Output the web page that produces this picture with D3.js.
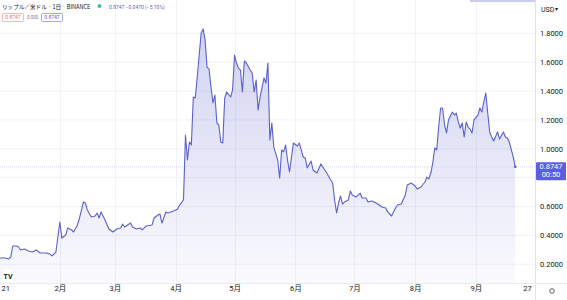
<!DOCTYPE html>
<html>
<head>
<meta charset="utf-8">
<script src="https://cdn.jsdelivr.net/npm/d3@7"></script>
<style>
body{margin:0;background:#fff;}
text{font-family:Roboto,"Noto Sans CJK JP",sans-serif;}
</style>
</head>
<body>
<svg id="chart" width="567" height="300"></svg>
<script>
// XRP/USD daily closes
const dates = ["2021-01-01","2021-01-04","2021-01-06","2021-01-07","2021-01-08","2021-01-10","2021-01-11","2021-01-12","2021-01-14","2021-01-16","2021-01-18","2021-01-20","2021-01-22","2021-01-25","2021-01-27","2021-01-28","2021-01-30","2021-01-31",
"2021-02-01","2021-02-02","2021-02-04","2021-02-05","2021-02-07","2021-02-08","2021-02-10","2021-02-11","2021-02-13","2021-02-14","2021-02-15","2021-02-17","2021-02-19","2021-02-20","2021-02-21","2021-02-22","2021-02-24","2021-02-26","2021-02-28",
"2021-03-02","2021-03-04","2021-03-05","2021-03-06","2021-03-09","2021-03-10","2021-03-12","2021-03-14","2021-03-15","2021-03-17","2021-03-20","2021-03-21","2021-03-23","2021-03-24","2021-03-25","2021-03-27","2021-03-28","2021-03-31",
"2021-04-02","2021-04-03","2021-04-05","2021-04-06","2021-04-07","2021-04-08","2021-04-09","2021-04-10","2021-04-11","2021-04-12","2021-04-14","2021-04-15","2021-04-16","2021-04-17","2021-04-18","2021-04-19","2021-04-20","2021-04-21","2021-04-22","2021-04-23","2021-04-24","2021-04-25","2021-04-26","2021-04-27","2021-04-29","2021-04-30",
"2021-05-01","2021-05-02","2021-05-03","2021-05-04","2021-05-05","2021-05-06","2021-05-07","2021-05-09","2021-05-10","2021-05-11","2021-05-12","2021-05-13","2021-05-14","2021-05-16","2021-05-17","2021-05-18","2021-05-19","2021-05-20","2021-05-21","2021-05-23","2021-05-24","2021-05-25","2021-05-26","2021-05-27","2021-05-28","2021-05-29","2021-05-31",
"2021-06-02","2021-06-03","2021-06-05","2021-06-06","2021-06-07","2021-06-09","2021-06-10","2021-06-12","2021-06-14","2021-06-15","2021-06-17","2021-06-19","2021-06-20","2021-06-21","2021-06-22","2021-06-23","2021-06-24","2021-06-25","2021-06-26","2021-06-28","2021-06-29","2021-06-30",
"2021-07-02","2021-07-04","2021-07-05","2021-07-07","2021-07-08","2021-07-10","2021-07-12","2021-07-13","2021-07-15","2021-07-17","2021-07-18","2021-07-20","2021-07-22","2021-07-23","2021-07-25","2021-07-27","2021-07-28","2021-07-30",
"2021-08-01","2021-08-02","2021-08-04","2021-08-06","2021-08-07","2021-08-08","2021-08-09","2021-08-10","2021-08-11","2021-08-12","2021-08-13","2021-08-14","2021-08-15","2021-08-16","2021-08-17","2021-08-18","2021-08-20","2021-08-21","2021-08-22","2021-08-23","2021-08-24","2021-08-25","2021-08-26","2021-08-27","2021-08-28","2021-08-29","2021-08-30","2021-08-31",
"2021-09-02","2021-09-03","2021-09-04","2021-09-05","2021-09-06","2021-09-07","2021-09-08","2021-09-09","2021-09-10","2021-09-12","2021-09-13","2021-09-15","2021-09-16","2021-09-17","2021-09-18","2021-09-20","2021-09-21"]
const prices = [0.243,0.243,0.236,0.250,0.326,0.326,0.319,0.298,0.305,0.291,0.284,0.298,0.277,0.277,0.270,0.257,0.284,0.388,
0.492,0.381,0.402,0.451,0.437,0.423,0.472,0.520,0.631,0.624,0.576,0.527,0.534,0.555,0.520,0.562,0.506,0.444,0.423,
0.444,0.451,0.478,0.458,0.485,0.458,0.444,0.451,0.437,0.465,0.472,0.520,0.541,0.548,0.485,0.562,0.555,0.569,
0.583,0.610,0.645,1.096,0.922,1.047,1.026,1.359,1.352,1.498,1.803,1.831,1.755,1.567,1.553,1.428,1.318,1.373,1.179,1.165,1.047,1.040,1.352,1.394,1.359,1.408,
1.650,1.595,1.560,1.546,1.394,1.609,1.595,1.546,1.526,1.394,1.477,1.269,1.359,1.491,1.456,1.595,1.061,1.179,1.012,0.922,0.797,0.992,0.978,1.026,0.922,0.839,1.040,
1.019,1.040,0.943,0.936,0.867,0.915,0.853,0.832,0.895,0.874,0.832,0.784,0.763,0.645,0.555,0.624,0.673,0.617,0.631,0.645,0.707,0.680,
0.666,0.693,0.659,0.659,0.631,0.638,0.624,0.617,0.596,0.589,0.562,0.534,0.589,0.610,0.617,0.680,0.749,0.763,
0.742,0.721,0.735,0.770,0.804,0.791,0.832,0.902,1.006,0.992,1.151,1.283,1.283,1.165,1.110,1.200,1.255,1.234,1.248,1.186,1.144,1.179,1.082,1.186,1.151,1.137,1.110,1.200,
1.234,1.283,1.255,1.325,1.387,1.248,1.117,1.082,1.054,1.117,1.068,1.117,1.082,1.075,1.047,0.943,0.8747]

const yTicks = [0.2,0.4,0.6,0.8,1.0,1.2,1.4,1.6,1.8]
const yTickLabels = ["0.2000","0.4000","0.6000","","1.0000","1.2000","1.4000","1.6000","1.8000"]
const xTickDates = ["2021-01-01","2021-02-01","2021-03-01","2021-04-01","2021-05-01","2021-06-01","2021-07-01","2021-08-01","2021-09-01","2021-09-27"]
const xTickLabels = ["21","2月","3月","4月","5月","6月","7月","8月","9月","27"]

const lastPrice = 0.8747
const lineColor = "#5b5fcf"

const parse = d3.timeParse("%Y-%m-%d")
const data = dates.map((d,i) => ({date: parse(d), v: prices[i]}))

const plotRight = 535, plotBottom = 283

let svg = d3.select("#chart")

let xScale = d3.scaleTime().domain([parse("2021-01-01"), parse("2021-09-27")]).range([-1, 527])
let yScale = d3.scaleLinear().domain([0, 2]).range([293, 4.6])

// gradient for the area
let defs = svg.append("defs")
let grad = defs.append("linearGradient")
    .attr("id","fillGrad").attr("gradientUnits","userSpaceOnUse")
    .attr("x1",0).attr("x2",0).attr("y1",yScale(1.85)).attr("y2",plotBottom)
grad.append("stop").attr("offset","0%").attr("stop-color",lineColor).attr("stop-opacity",0.28)
grad.append("stop").attr("offset","100%").attr("stop-color",lineColor).attr("stop-opacity",0.03)

defs.append("clipPath").attr("id","plotClip")
    .append("rect").attr("x",0).attr("y",0).attr("width",plotRight).attr("height",plotBottom)

// grid
let grid = svg.append("g")
grid.selectAll(".hg").data(yTicks).enter().append("line")
    .attr("x1",0).attr("x2",plotRight)
    .attr("y1",d => yScale(d)).attr("y2",d => yScale(d))
    .attr("stroke","#f0f2f8").attr("stroke-width",1)
grid.selectAll(".vg").data(xTickDates.slice(1,9)).enter().append("line")
    .attr("x1",d => Math.round(xScale(parse(d)))+0.5).attr("x2",d => Math.round(xScale(parse(d)))+0.5)
    .attr("y1",0).attr("y2",plotBottom)
    .attr("stroke","#f0f2f8").attr("stroke-width",1)

let plot = svg.append("g").attr("clip-path","url(#plotClip)")

let area = d3.area().x(d => xScale(d.date)).y0(plotBottom).y1(d => yScale(d.v))
let line = d3.line().x(d => xScale(d.date)).y(d => yScale(d.v))

plot.append("path").datum(data).attr("d",area).attr("fill","url(#fillGrad)")

// last price line
plot.append("line")
    .attr("x1",0).attr("x2",plotRight)
    .attr("y1",yScale(lastPrice)).attr("y2",yScale(lastPrice))
    .attr("stroke","#c9cbf2").attr("stroke-width",0.8).attr("stroke-dasharray","1,1")

plot.append("path").datum(data).attr("d",line)
    .attr("fill","none").attr("stroke",lineColor).attr("stroke-width",1.1)
    .attr("stroke-linejoin","round")

plot.append("circle").attr("cx",xScale(data[data.length-1].date)).attr("cy",yScale(lastPrice))
    .attr("r",1.3).attr("fill",lineColor)

// borders
svg.append("line").attr("x1",plotRight+0.5).attr("x2",plotRight+0.5).attr("y1",0).attr("y2",300)
    .attr("stroke","#e0e3eb")
svg.append("line").attr("x1",0).attr("x2",567).attr("y1",plotBottom+0.5).attr("y2",plotBottom+0.5)
    .attr("stroke","#e9ebf1")
svg.append("rect").attr("x",470).attr("y",0).attr("width",65).attr("height",2).attr("fill","#c9cbef")

// Y axis
let y_axis = d3.axisRight(yScale).tickValues(yTicks).tickSize(0).tickPadding(0)
    .tickFormat((d,i) => yTickLabels[i])
let yAx = svg.append("g").attr("transform",`translate(${540},0)`).call(y_axis)
yAx.select(".domain").remove()
yAx.selectAll("text").attr("font-size",7.5).attr("fill","#131722")
    .style("font-family","Roboto,sans-serif")

// X axis
let x_axis = d3.axisBottom(xScale).tickValues(xTickDates.map(parse)).tickSize(0).tickPadding(0)
    .tickFormat((d,i) => xTickLabels[i])
let xAx = svg.append("g").attr("transform",`translate(0,${286})`).call(x_axis)
xAx.select(".domain").remove()
xAx.selectAll("text").attr("font-size",7.5).attr("fill","#131722")
    .style("font-family","Roboto,'Noto Sans CJK JP',sans-serif")
// first label sits against the left edge
xAx.selectAll("text").filter((d,i) => i === 0).attr("text-anchor","start").attr("x",2)

// gear icon
svg.append("circle").attr("cx",552).attr("cy",291).attr("r",2.3)
    .attr("fill","none").attr("stroke","#4a4e5a").attr("stroke-width",0.9)

// TV logo
svg.append("circle").attr("cx",8).attr("cy",276).attr("r",6).attr("fill","#fff")
svg.append("text").attr("x",8).attr("y",279).attr("text-anchor","middle")
    .attr("font-size",7).attr("font-weight","bold").attr("fill","#131722").text("TV")

// USD label
svg.append("text").attr("x",541).attr("y",12).attr("font-size",7).attr("fill","#131722").text("USD")
svg.append("text").attr("x",555).attr("y",11).attr("font-size",6).attr("fill","#131722").text("▾")

// last price tag
svg.append("rect").attr("x",536).attr("y",yScale(lastPrice)-4.5).attr("width",30).attr("height",18)
    .attr("fill","#5b5ee3").attr("rx",1)
svg.append("text").attr("x",551).attr("y",yScale(lastPrice)+2.5).attr("text-anchor","middle")
    .attr("font-size",7.5).attr("fill","#fff").text(lastPrice.toFixed(4))
svg.append("text").attr("x",551).attr("y",yScale(lastPrice)+10.5).attr("text-anchor","middle")
    .attr("font-size",7.5).attr("fill","#fff").text("00:50")

// legend / header
let header = svg.append("g")
header.append("text").attr("x",2).attr("y",8.5).attr("font-size",5.6).attr("fill","#131722")
    .style("font-family","'Noto Sans CJK JP',sans-serif")
    .text("リップル／米ドル · 1日 · BINANCE")
header.append("circle").attr("cx",99.5).attr("cy",6).attr("r",2).attr("fill","#26a69a").attr("opacity",0.8)
header.append("text").attr("x",109).attr("y",8.5).attr("font-size",5).attr("fill","#5b5fcf")
    .text("0.8747  −0.0470 (−5.10%)")
header.append("rect").attr("x",2.5).attr("y",13.5).attr("width",21).attr("height",8).attr("rx",1)
    .attr("fill","#fff").attr("stroke","#ef9a9a").attr("stroke-width",0.7)
header.append("text").attr("x",13).attr("y",19.3).attr("text-anchor","middle")
    .attr("font-size",5).attr("fill","#e57373").text("0.8747")
header.append("text").attr("x",27).attr("y",19.3)
    .attr("font-size",4.5).attr("fill","#787b86").text("0.000")
header.append("rect").attr("x",41.5).attr("y",13.5).attr("width",21).attr("height",8).attr("rx",1)
    .attr("fill","#fff").attr("stroke","#7b7fdc").attr("stroke-width",0.7)
header.append("text").attr("x",52).attr("y",19.3).attr("text-anchor","middle")
    .attr("font-size",5).attr("fill","#5b5fcf").text("0.8747")
</script>
</body>
</html>
